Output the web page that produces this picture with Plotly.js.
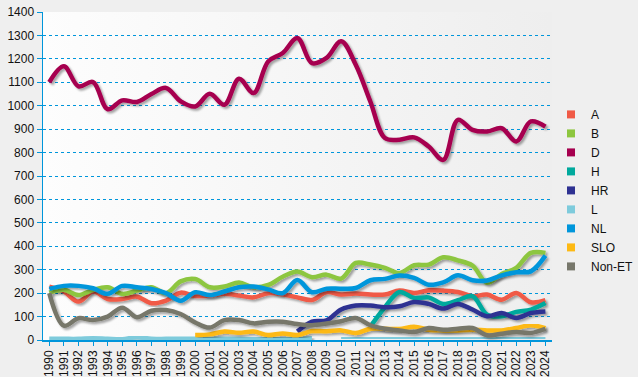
<!DOCTYPE html>
<html>
<head>
<meta charset="utf-8">
<script src="https://cdn.plot.ly/plotly-3.0.1.min.js"></script>
<style>
html,body{margin:0;padding:0;background:#efefef;}
#chart{width:638px;height:377px;
background: linear-gradient(to right,#fdfdfd,#eeeeee) 43px 12px / 509px 328px no-repeat, #efefef;}
</style>
</head>
<body>
<div id="chart"></div>
<script>
const years = [];
for (let y = 1990; y <= 2024; y++) years.push(y);

const A = [228,207,164,207,175,175,185,157,168,202,188,190,197,190,182,200,195,182,171,204,194,198,194,194,211,201,212,211,205,187,194,172,201,161,170];
const B = [202,214,192,214,225,197,211,225,200,250,260,225,228,245,225,235,270,292,268,279,262,329,322,308,286,319,322,353,340,318,244,282,308,372,372];
const D = [1100,1168,1083,1101,985,1023,1016,1050,1076,1019,997,1051,1004,1115,1054,1189,1225,1289,1182,1204,1275,1175,1018,862,855,865,826,769,940,897,890,904,847,933,911];
const H = [null,null,null,null,null,null,null,null,null,null,null,null,null,null,null,null,null,null,null,null,null,null,57,140,205,179,182,154,170,187,108,101,120,130,158];
const HR = [null,null,null,null,null,null,null,null,null,null,null,null,null,null,null,null,null,36,78,84,130,147,147,140,144,162,154,134,154,130,101,115,94,115,122];
const L = [5,5,5,8,5,3,12,5,5,5,5,5,5,5,3,3,3,5,8,null,6,7,7,8,8,7,8,9,8,7,6,7,7,6,6];
const NL = [218,231,231,221,197,231,225,218,200,168,204,192,207,225,228,216,200,256,204,219,219,222,255,261,275,265,236,246,276,255,254,276,289,293,360];
const SLO = [null,null,null,null,null,null,null,null,null,null,21,24,36,31,36,21,28,21,38,37,41,30,48,48,47,57,44,41,41,44,41,41,51,63,51];
const NonET = [200,61,93,85,100,138,97,125,128,111,75,53,85,85,71,78,78,68,63,70,80,94,63,48,41,34,51,44,48,51,20,27,34,30,48];

const names = ['A','B','D','H','HR','L','NL','SLO','Non-ET'];
const series = [A,B,D,H,HR,L,NL,SLO,NonET];
const colors = ['#f05a46','#8dc63f','#a6004f','#00a99d','#2e3192','#7ecbdc','#0096db','#fdb913','#77776b'];

const traces = [];
series.forEach((s,i)=>{
  traces.push({x:years,y:s,type:'scatter',mode:'lines',name:names[i],
    line:{color:colors[i],width:4.5,shape:'spline',smoothing:1},
    connectgaps:false,showlegend:false,hoverinfo:'skip'});
});
series.forEach((s,i)=>{
  traces.push({x:[null],y:[null],type:'scatter',mode:'markers',name:names[i],
    marker:{color:colors[i],symbol:'square',size:8},showlegend:true});
});

const layout = {
  width:638,height:377,
  margin:{l:43,r:86,t:12,b:37,autoexpand:false},
  paper_bgcolor:'rgba(0,0,0,0)',
  plot_bgcolor:'rgba(0,0,0,0)',
  font:{family:'Liberation Sans, Arial, sans-serif',size:12,color:'#111'},
  xaxis:{range:[1989.57,2024.45],tickmode:'array',tickvals:years,ticktext:years.map(String),
    tickangle:-90,showgrid:false,zeroline:false,showline:true,linecolor:'#0096db',linewidth:1.5,
    ticks:'outside',ticklen:4,tickcolor:'#0096db',tickfont:{size:12,color:'#111'}},
  yaxis:{range:[0,1400],dtick:100,showgrid:true,gridcolor:'#0096db',griddash:'dot',gridwidth:1,
    zeroline:false,showline:true,linecolor:'#0096db',linewidth:1.5,
    ticks:'outside',ticklen:5,tickcolor:'#0096db',tickfont:{size:12,color:'#111'}},
  legend:{x:0.998,xanchor:'left',y:0.732,yanchor:'top',bgcolor:'rgba(0,0,0,0)',
    font:{size:12,color:'#111'},itemwidth:30,tracegroupgap:0},
  showlegend:true
};

Plotly.newPlot('chart',traces,layout,{staticPlot:true,displayModeBar:false}).then(gd=>{
  const svg = gd.querySelector('svg.main-svg');
  const ns='http://www.w3.org/2000/svg';
  let defs = svg.querySelector('defs');
  const f = document.createElementNS(ns,'filter');
  f.setAttribute('id','lshadow');
  f.setAttribute('x','-10%');f.setAttribute('y','-10%');
  f.setAttribute('width','120%');f.setAttribute('height','130%');
  f.innerHTML='<feGaussianBlur in="SourceAlpha" stdDeviation="0.8"/><feOffset dx="1.5" dy="2" result="o"/><feComponentTransfer><feFuncA type="linear" slope="0.35"/></feComponentTransfer><feMerge><feMergeNode/><feMergeNode in="SourceGraphic"/></feMerge>';
  defs.appendChild(f);
  gd.querySelectorAll('.scatterlayer .trace .js-line').forEach(p=>p.setAttribute('filter','url(#lshadow)'));
});
</script>
</body>
</html>
